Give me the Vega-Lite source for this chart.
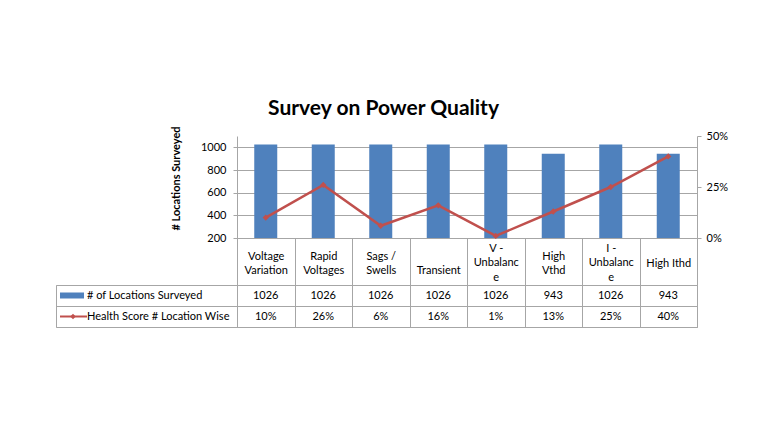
{
  "$schema": "https://vega.github.io/schema/vega-lite/v6.json",
  "background": "white",
  "padding": {"left": 55, "top": 97, "right": 20, "bottom": 10},
  "title": {"text": "Survey on Power Quality", "fontSize": 21, "fontWeight": "bold", "color": "#000000", "anchor": "middle", "offset": 7, "dx": -8},
  "datasets": {
    "survey": [
      {"category": "Voltage Variation", "locations": 1026, "health": 0.10},
      {"category": "Rapid Voltages", "locations": 1026, "health": 0.26},
      {"category": "Sags / Swells", "locations": 1026, "health": 0.06},
      {"category": "Transient", "locations": 1026, "health": 0.16},
      {"category": "V - Unbalance", "locations": 1026, "health": 0.01},
      {"category": "High Vthd", "locations": 943, "health": 0.13},
      {"category": "I - Unbalance", "locations": 1026, "health": 0.25},
      {"category": "High Ithd", "locations": 943, "health": 0.40}
    ],
    "series": [
      {"series": "# of Locations Surveyed", "kind": "bar"},
      {"series": "Health Score # Location Wise", "kind": "line"}
    ]
  },
  "columns": 2,
  "spacing": {"row": 47, "column": 0},
  "bounds": "flush",
  "concat": [
    {
      "width": 181,
      "height": 102,
      "data": {"values": [{}]},
      "mark": {"type": "text"},
      "encoding": {"text": {"value": ""}}
    },
    {
      "width": 460,
      "height": 102,
      "data": {"name": "survey"},
      "encoding": {
        "x": {
          "field": "category",
          "type": "nominal",
          "scale": {"type": "band", "domain": ["Voltage Variation", "Rapid Voltages", "Sags / Swells", "Transient", "V - Unbalance", "High Vthd", "I - Unbalance", "High Ithd"], "paddingInner": 0, "paddingOuter": 0},
          "axis": {
            "orient": "bottom",
            "title": null,
            "grid": false,
            "domain": true,
            "domainColor": "#a6a6a6",
            "ticks": true,
            "tickBand": "extent",
            "tickSize": 47,
            "tickColor": "#a6a6a6",
            "labelAngle": 0,
            "labelPadding": {
              "condition": [
                {"test": "datum.value == 'V - Unbalance' || datum.value == 'I - Unbalance'", "value": -37},
                {"test": "datum.value == 'High Ithd'", "value": -22},
                {"test": "datum.value == 'Transient'", "value": -15}
              ],
              "value": -29
            },
            "labelBaseline": "middle",
            "labelFontSize": 11,
            "labelColor": "#000000",
            "labelLineHeight": 14.5,
            "labelOverlap": false,
            "labelBound": false,
            "labelExpr": "datum.label == 'Voltage Variation' ? ['Voltage','Variation'] : datum.label == 'Rapid Voltages' ? ['Rapid','Voltages'] : datum.label == 'Sags / Swells' ? ['Sags /','Swells'] : datum.label == 'V - Unbalance' ? ['V -','Unbalanc','e'] : datum.label == 'High Vthd' ? ['High','Vthd'] : datum.label == 'I - Unbalance' ? ['I -','Unbalanc','e'] : datum.label"
          }
        }
      },
      "layer": [
        {
          "mark": {"type": "bar", "color": "#4F81BD", "width": {"band": 0.4}},
          "encoding": {
            "y": {
              "field": "locations",
              "type": "quantitative",
              "scale": {"domain": [200, 1100], "nice": false, "zero": false},
              "axis": {
                "orient": "left",
                "values": [200, 400, 600, 800, 1000],
                "format": "d",
                "grid": true,
                "gridColor": "#a6a6a6",
                "domainColor": "#a6a6a6",
                "tickColor": "#a6a6a6",
                "tickSize": 4,
                "labelFontSize": 11,
                "labelColor": "#000000",
                "labelPadding": 7,
                "title": "# Locations Surveyed",
                "titleFontSize": 11,
                "titleFontWeight": "bold",
                "titleColor": "#000000",
                "titlePadding": 19,
                "titleY": 42
              }
            },
            "y2": {"datum": 200}
          }
        },
        {
          "encoding": {
            "y": {
              "field": "health",
              "type": "quantitative",
              "scale": {"domain": [0, 0.5], "nice": false},
              "axis": {
                "orient": "right",
                "values": [0, 0.25, 0.5],
                "format": ".0%",
                "grid": false,
                "domainColor": "#a6a6a6",
                "tickColor": "#a6a6a6",
                "tickSize": 4,
                "labelPadding": 5,
                "labelFontSize": 11,
                "labelColor": "#000000",
                "title": null
              }
            }
          },
          "layer": [
            {"mark": {"type": "line", "color": "#C0504D", "strokeWidth": 2.5}},
            {"mark": {"type": "point", "shape": "diamond", "filled": true, "color": "#C0504D", "size": 40, "opacity": 1}}
          ]
        }
      ],
      "resolve": {"scale": {"y": "independent"}}
    },
    {
      "width": 181,
      "height": 42,
      "data": {"name": "series"},
      "view": {"stroke": "#a6a6a6"},
      "encoding": {
        "y": {
          "field": "series",
          "type": "nominal",
          "scale": {"type": "band", "domain": ["# of Locations Surveyed", "Health Score # Location Wise"], "paddingInner": 0, "paddingOuter": 0},
          "axis": {"title": null, "labels": false, "ticks": false, "domain": false, "grid": true, "tickBand": "extent", "gridColor": "#a6a6a6"}
        }
      },
      "layer": [
        {
          "mark": {"type": "text", "align": "left", "fontSize": 11, "color": "#000000"},
          "encoding": {
            "x": {"datum": 31, "type": "quantitative", "scale": {"domain": [0, 181], "nice": false, "zero": true}, "axis": null},
            "text": {"field": "series"}
          }
        },
        {
          "transform": [{"filter": "datum.kind == 'bar'"}],
          "mark": {"type": "rule", "color": "#4F81BD", "strokeWidth": 6},
          "encoding": {"x": {"datum": 4, "type": "quantitative"}, "x2": {"datum": 28}}
        },
        {
          "transform": [{"filter": "datum.kind == 'line'"}],
          "mark": {"type": "rule", "color": "#C0504D", "strokeWidth": 2},
          "encoding": {"x": {"datum": 4, "type": "quantitative"}, "x2": {"datum": 31}}
        },
        {
          "transform": [{"filter": "datum.kind == 'line'"}],
          "mark": {"type": "point", "shape": "diamond", "filled": true, "color": "#C0504D", "size": 30, "opacity": 1},
          "encoding": {"x": {"datum": 17, "type": "quantitative"}}
        }
      ]
    },
    {
      "width": 460,
      "height": 42,
      "data": {"name": "survey"},
      "view": {"stroke": "#a6a6a6"},
      "encoding": {
        "x": {
          "field": "category",
          "type": "nominal",
          "scale": {"type": "band", "domain": ["Voltage Variation", "Rapid Voltages", "Sags / Swells", "Transient", "V - Unbalance", "High Vthd", "I - Unbalance", "High Ithd"], "paddingInner": 0, "paddingOuter": 0},
          "axis": {"title": null, "labels": false, "ticks": false, "domain": false, "grid": true, "tickBand": "extent", "gridColor": "#a6a6a6"}
        }
      },
      "layer": [
        {
          "mark": {"type": "text", "fontSize": 11, "color": "#000000"},
          "encoding": {
            "y": {
              "datum": "# of Locations Surveyed",
              "type": "nominal",
              "scale": {"type": "band", "domain": ["# of Locations Surveyed", "Health Score # Location Wise"], "paddingInner": 0, "paddingOuter": 0},
              "axis": {"title": null, "labels": false, "ticks": false, "domain": false, "grid": true, "tickBand": "extent", "gridColor": "#a6a6a6"}
            },
            "text": {"field": "locations", "type": "quantitative", "format": "d"}
          }
        },
        {
          "mark": {"type": "text", "fontSize": 11, "color": "#000000"},
          "encoding": {
            "y": {"datum": "Health Score # Location Wise", "type": "nominal"},
            "text": {"field": "health", "type": "quantitative", "format": ".0%"}
          }
        }
      ]
    }
  ],
  "config": {
    "font": "Lato",
    "view": {"stroke": null}
  }
}
